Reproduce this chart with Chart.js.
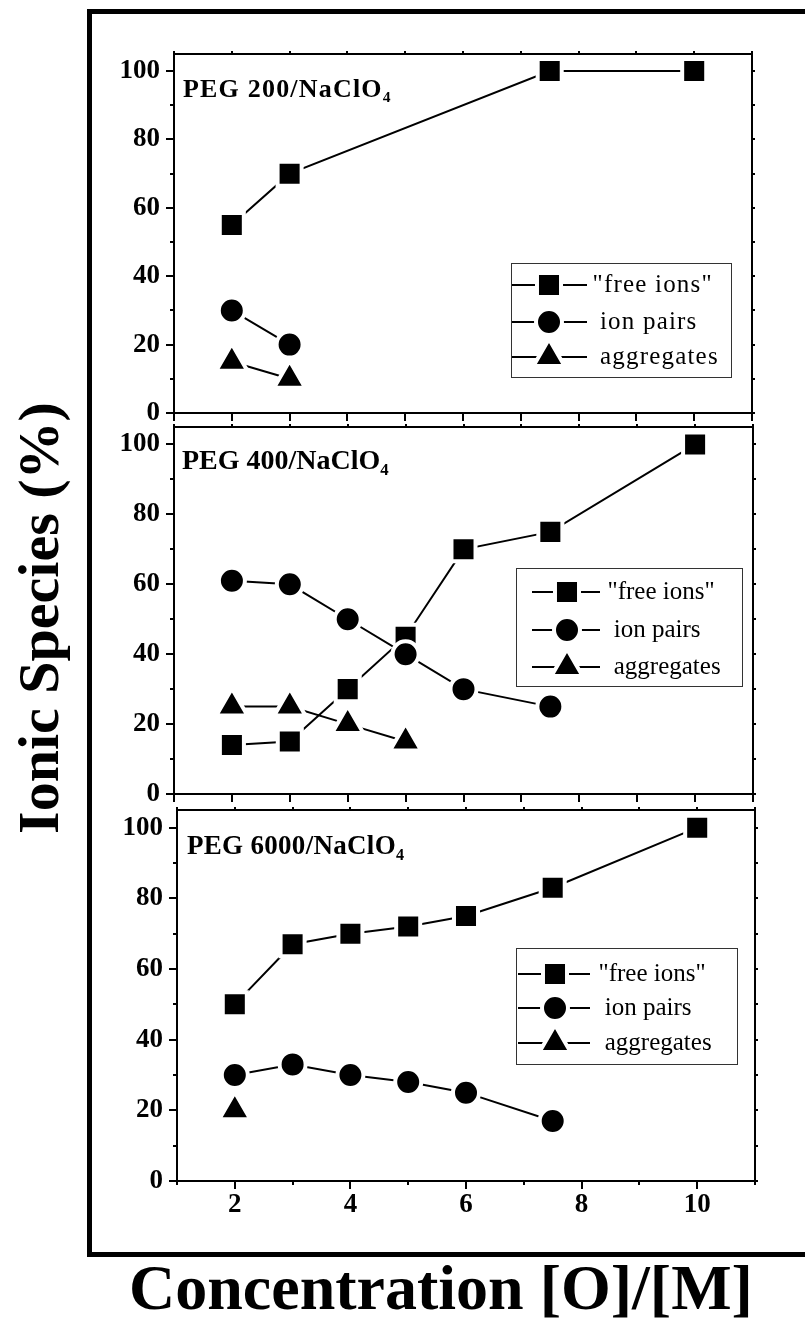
<!DOCTYPE html>
<html>
<head>
<meta charset="utf-8">
<script src="https://cdn.jsdelivr.net/npm/chart.js@4.4.1/dist/chart.umd.min.js"></script>
<style>
  html, body { margin: 0; padding: 0; background: #fff; }
  body { position: relative; width: 805px; height: 1319px; overflow: hidden;
         font-family: "Liberation Serif", "Times New Roman", serif; color: #000; }
  .frame { position: absolute; left: 87px; top: 9px; width: 800px; height: 1238px;
           border: 5px solid #000; }
  .panel-canvas { position: absolute; }
  .tag { position: absolute; font-weight: bold; line-height: 1; white-space: nowrap; }
  .tag sub { font-size: 0.6em; vertical-align: -0.35em; line-height: 0; }
  .legend { position: absolute; box-sizing: border-box; border: 1.5px solid #333; background: #fff; }
  .legend canvas { position: absolute; left: -1.5px; top: -1.5px; }
  .legend span { position: absolute; font-size: 25px; line-height: 1; white-space: pre; }
  .axis-title { position: absolute; font-weight: bold; line-height: 1; white-space: nowrap; }
</style>
</head>
<body>
<div class="frame"></div>
<div class="axis-title" id="ytitle">Ionic Species (%)</div>
<div class="axis-title" id="xtitle">Concentration [O]/[M]</div>

<script>
// ---- data ----
const concentrations = [2, 3, 4, 5, 6, 7.5, 10];
const seriesNames = ['"free ions"', ' ion pairs', ' aggregates'];
const panelNames = ['PEG 200', 'PEG 400', 'PEG 6000'];

// PEG 200 / NaClO4
const freeIons200 = [55, 70, null, null, null, 100, 100];
const ionPairs200 = [30, 20];
const aggregates200 = [15, 10];

// PEG 400 / NaClO4
const freeIons400 = [14, 15, 30, 45, 70, 75, 100];
const ionPairs400 = [61, 60, 50, 40, 30, 25];
const aggregates400 = [25, 25, 20, 15];

// PEG 6000 / NaClO4
const freeIons6000 = [50, 67, 70, 72, 75, 83, 100];
const ionPairs6000 = [30, 33, 30, 28, 25, 17];
const aggregates6000 = [20];

const yTickLabels = [0, 20, 40, 60, 80, 100];
const xTickLabels = [2, 4, 6, 8, 10];

// ---- styling / layout ----
const panelSeries = [
  [freeIons200, ionPairs200, aggregates200],
  [freeIons400, ionPairs400, aggregates400],
  [freeIons6000, ionPairs6000, aggregates6000]
];

const markers = [
  { pointStyle: 'rect', radius: 17 },
  { pointStyle: 'circle', radius: 13 },
  { pointStyle: 'triangle', radius: 18 }
];

const HALO = 4;          // white rim around every marker
const Y_AXIS_W = 74;
const PAD_TOP = 10, PAD_RIGHT = 12;

const panelLayout = [
  { left: 100, top: 44,  plotW: 578, plotH: 359, xAxisH: 12, showX: false,
    tag: { left: 183, top: 76, size: 26, spacing: 1.2 },
    legend: { left: 511, top: 263, width: 221, height: 115, lineFrom: 1, lineTo: 76, marker: 38, textX: 82, rows: [22, 59, 94], spacing: 1.2 } },
  { left: 100, top: 417, plotW: 579, plotH: 367, xAxisH: 12, showX: false,
    tag: { left: 182, top: 446, size: 28, spacing: 0 },
    legend: { left: 516, top: 568, width: 227, height: 119, lineFrom: 16, lineTo: 84, marker: 51, textX: 92, rows: [24, 62, 99], spacing: 0 } },
  { left: 103, top: 800, plotW: 578, plotH: 371, xAxisH: 50, showX: true,
    tag: { left: 187, top: 832, size: 27, spacing: 0.3 },
    legend: { left: 516, top: 948, width: 222, height: 117, lineFrom: 2, lineTo: 74, marker: 39, textX: 83, rows: [26, 60, 95], spacing: 0 } }
];

const SERIF = '"Liberation Serif", "Times New Roman", serif';

// frame + tick marks around each plot area
const framePlugin = {
  id: 'frameTicks',
  afterDraw(chart, args, opts) {
    const { ctx, chartArea: a, scales } = chart;
    const xs = scales.x, ys = scales.y;
    ctx.save();
    ctx.strokeStyle = '#000';
    ctx.lineWidth = 2;
    ctx.strokeRect(a.left, a.top, a.right - a.left, a.bottom - a.top);
    ctx.beginPath();
    for (let v = 0; v <= 100; v += 10) {
      const y = Math.round(ys.getPixelForValue(v));
      const len = v % 20 === 0 ? 8 : 4;
      ctx.moveTo(a.left, y); ctx.lineTo(a.left - len, y);
      ctx.moveTo(a.right, y); ctx.lineTo(a.right + 3, y);
    }
    for (let v = 1; v <= 11; v += 1) {
      const x = Math.round(xs.getPixelForValue(v));
      const len = opts.labelled ? (v % 2 === 0 ? 8 : 4) : 8;
      ctx.moveTo(x, a.bottom); ctx.lineTo(x, a.bottom + len);
      ctx.moveTo(x, a.top); ctx.lineTo(x, a.top - 3);
    }
    ctx.stroke();
    ctx.restore();
  }
};

function drawMarker(ctx, style, x, y) {
  ctx.fillStyle = '#000';
  ctx.strokeStyle = '#fff';
  ctx.lineWidth = HALO;
  Chart.helpers.drawPoint(ctx, { pointStyle: style.pointStyle, radius: style.radius, borderWidth: HALO, rotation: 0 }, x, y);
}

function buildPanel(i) {
  const L = panelLayout[i];
  const cw = Y_AXIS_W + L.plotW + PAD_RIGHT;
  const ch = PAD_TOP + L.plotH + L.xAxisH;
  const canvas = document.createElement('canvas');
  canvas.className = 'panel-canvas';
  canvas.width = cw; canvas.height = ch;
  canvas.style.left = L.left + 'px'; canvas.style.top = L.top + 'px';
  canvas.style.width = cw + 'px'; canvas.style.height = ch + 'px';
  document.body.appendChild(canvas);

  const datasets = panelSeries[i].map((values, k) => ({
    label: seriesNames[k],
    data: values.map((v, j) => (v == null ? null : { x: concentrations[j], y: v })).filter(Boolean),
    borderColor: '#000',
    borderWidth: 2,
    backgroundColor: '#000',
    pointStyle: markers[k].pointStyle,
    pointRadius: markers[k].radius,
    pointBackgroundColor: '#000',
    pointBorderColor: '#fff',
    pointBorderWidth: HALO,
    tension: 0,
    clip: false,
    order: 3 - k
  }));

  const tickFont = { family: SERIF, weight: 'bold', size: 27 };

  new Chart(canvas, {
    type: 'line',
    data: { datasets },
    plugins: [framePlugin],
    options: {
      responsive: false,
      animation: false,
      events: [],
      devicePixelRatio: 1,
      layout: { autoPadding: false, padding: { top: PAD_TOP, right: PAD_RIGHT, left: 0, bottom: 0 } },
      plugins: {
        legend: { display: false },
        tooltip: { enabled: false },
        frameTicks: { labelled: L.showX }
      },
      scales: {
        x: {
          type: 'linear', min: 1, max: 11,
          grid: { display: false, drawTicks: false },
          border: { display: false },
          ticks: {
            display: L.showX, stepSize: 1, includeBounds: false, autoSkip: false,
            maxRotation: 0, padding: 8, color: '#000', font: tickFont,
            callback: v => (xTickLabels.includes(v) ? String(v) : '')
          },
          afterFit: s => { s.height = L.xAxisH; s.paddingLeft = 0; s.paddingRight = 0; }
        },
        y: {
          type: 'linear', min: 0, max: 105,
          grid: { display: false, drawTicks: false },
          border: { display: false },
          ticks: {
            stepSize: 20, includeBounds: false, padding: 14, color: '#000', font: tickFont,
            callback: v => (yTickLabels.includes(v) ? String(v) : '')
          },
          afterFit: s => { s.width = Y_AXIS_W; s.paddingTop = 0; s.paddingBottom = 0; }
        }
      }
    }
  });

  // panel caption
  const tag = document.createElement('div');
  tag.className = 'tag';
  tag.style.left = L.tag.left + 'px';
  tag.style.top = L.tag.top + 'px';
  tag.style.fontSize = L.tag.size + 'px';
  tag.style.letterSpacing = L.tag.spacing + 'px';
  tag.innerHTML = panelNames[i] + '/NaClO<sub>4</sub>';
  document.body.appendChild(tag);

  // legend box built from the datasets
  const G = L.legend;
  const box = document.createElement('div');
  box.className = 'legend';
  box.style.left = G.left + 'px'; box.style.top = G.top + 'px';
  box.style.width = G.width + 'px'; box.style.height = G.height + 'px';
  const sym = document.createElement('canvas');
  sym.width = G.width; sym.height = G.height;
  box.appendChild(sym);
  const sctx = sym.getContext('2d');
  datasets.forEach((ds, k) => {
    const y = G.rows[k];
    sctx.strokeStyle = '#000';
    sctx.lineWidth = 2;
    sctx.beginPath();
    sctx.moveTo(G.lineFrom, y); sctx.lineTo(G.lineTo, y);
    sctx.stroke();
    drawMarker(sctx, markers[k], G.marker, y);
    const span = document.createElement('span');
    span.textContent = ds.label;
    span.style.left = (G.textX - 1.5) + 'px';
    span.style.top = (y - 15.5) + 'px';
    span.style.letterSpacing = G.spacing + 'px';
    box.appendChild(span);
  });
  document.body.appendChild(box);
}

[0, 1, 2].forEach(buildPanel);

// axis titles
const yt = document.getElementById('ytitle');
yt.style.fontSize = '58px';
const ytw = yt.offsetWidth, yth = yt.offsetHeight;
yt.style.left = (39 - ytw / 2) + 'px';
yt.style.top = (618 - yth / 2) + 'px';
yt.style.transform = 'rotate(-90deg)';

const xt = document.getElementById('xtitle');
xt.style.fontSize = '64px';
xt.style.left = (441 - xt.offsetWidth / 2) + 'px';
xt.style.top = '1256px';
</script>
</body>
</html>
